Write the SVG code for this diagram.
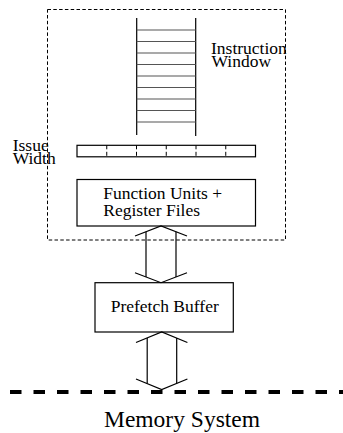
<svg xmlns="http://www.w3.org/2000/svg" width="343" height="433" viewBox="0 0 343 433">
  <style>
    .line { fill: none; stroke: #000; stroke-width: 1.2; }
    .box { fill: #fff; stroke: #000; stroke-width: 1.2; }
    .rung { stroke: #555; stroke-width: 1.2; }
    .frame { fill: none; stroke: #000; stroke-width: 1; stroke-dasharray: 3.5 2.3; }
    .tick { stroke: #000; stroke-width: 1; stroke-dasharray: 4 2.5; }
    .bus { fill: none; stroke: #000; stroke-width: 4; stroke-dasharray: 11.5 12; }
    .lbl { font-family: "Liberation Serif", "Times New Roman", serif; font-size: 17.5px; fill: #000; }
    .big { font-family: "Liberation Serif", "Times New Roman", serif; font-size: 23.5px; fill: #000; }
  </style>
  <rect width="343" height="433" fill="#fff"/>

  <!-- processor core boundary -->
  <g id="core">
    <rect class="frame" x="47.5" y="9.5" width="238" height="230.5"/>
  </g>

  <!-- instruction window: ladder of entries -->
  <g id="instruction-window">
    <line class="line" x1="136.7" y1="18" x2="136.7" y2="135"/>
    <line class="line" x1="195.7" y1="18" x2="195.7" y2="136"/>
    <g class="rung">
      <line x1="136.7" y1="30" x2="195.7" y2="30"/>
      <line x1="136.7" y1="41.5" x2="195.7" y2="41.5"/>
      <line x1="136.7" y1="53" x2="195.7" y2="53"/>
      <line x1="136.7" y1="64.5" x2="195.7" y2="64.5"/>
      <line x1="136.7" y1="76" x2="195.7" y2="76"/>
      <line x1="136.7" y1="87.5" x2="195.7" y2="87.5"/>
      <line x1="136.7" y1="99" x2="195.7" y2="99"/>
      <line x1="136.7" y1="110.5" x2="195.7" y2="110.5"/>
      <line x1="136.7" y1="122" x2="195.7" y2="122"/>
    </g>
    <text class="lbl" x="211" y="53.5">Instruction</text>
    <text class="lbl" x="211.5" y="67">Window</text>
  </g>

  <!-- issue width slots -->
  <g id="issue-width">
    <rect class="box" x="77" y="145.3" width="178.5" height="11.5"/>
    <g class="tick">
      <line x1="106.75" y1="145.3" x2="106.75" y2="156.8"/>
      <line x1="136.5" y1="145.3" x2="136.5" y2="156.8"/>
      <line x1="166.25" y1="145.3" x2="166.25" y2="156.8"/>
      <line x1="196" y1="145.3" x2="196" y2="156.8"/>
      <line x1="225.75" y1="145.3" x2="225.75" y2="156.8"/>
    </g>
    <text class="lbl" x="12.7" y="150.5">Issue</text>
    <text class="lbl" x="12.7" y="163.5">Width</text>
  </g>

  <!-- execution resources -->
  <g id="function-units">
    <rect class="box" x="77" y="179.5" width="178.5" height="46.5"/>
    <text class="lbl" x="103.3" y="199">Function Units +</text>
    <text class="lbl" x="103.3" y="216">Register Files</text>
  </g>

  <g id="prefetch-buffer">
    <rect class="box" x="95" y="282.7" width="138.3" height="49.3"/>
    <text class="lbl" x="110.7" y="311.7">Prefetch Buffer</text>
  </g>

  <g id="memory-system">
    <line class="bus" x1="10" y1="392" x2="343" y2="392"/>
    <text class="big" x="104" y="427">Memory System</text>
  </g>

  <!-- bidirectional data paths -->
  <g id="connectors" class="line">
    <!-- function units <-> prefetch buffer -->
    <polyline points="135,236 161,226 187,236"/>
    <line x1="146" y1="231.8" x2="146" y2="277"/>
    <line x1="176" y1="231.8" x2="176" y2="277"/>
    <polyline points="135,272.7 161,282.7 187,272.7"/>
    <!-- prefetch buffer <-> memory -->
    <polyline points="136,342.5 161.7,332 187.4,342.5"/>
    <line x1="147.2" y1="338" x2="147.2" y2="383.5"/>
    <line x1="176.7" y1="338" x2="176.7" y2="383.5"/>
    <polyline points="136,379 161.7,389.5 187.4,379"/>
  </g>
</svg>
